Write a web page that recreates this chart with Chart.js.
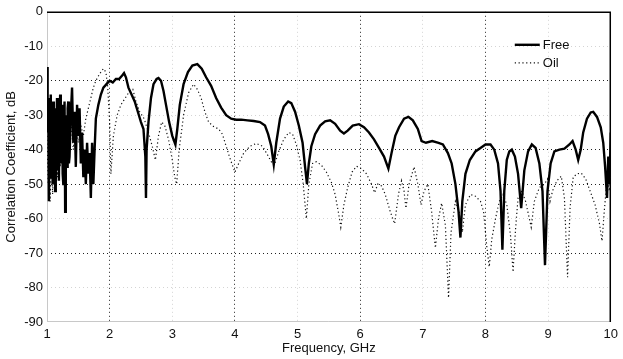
<!DOCTYPE html>
<html>
<head>
<meta charset="utf-8">
<script src="https://cdn.jsdelivr.net/npm/chart.js@4/dist/chart.umd.min.js"></script>
<style>
  html, body { margin: 0; padding: 0; background: #fff; }
  #wrap { width: 623px; height: 359px; }
</style>
</head>
<body>
<div id="wrap"><canvas id="corr"></canvas></div>
<script>
// Frequency (GHz) and correlation (dB)
var freqFree = [1.00,1.01,1.02,1.03,1.04,1.05,1.06,1.07,1.08,1.09,1.10,1.11,1.12,1.13,1.14,1.15,1.16,1.17,1.18,1.19,1.20,1.21,1.22,1.23,1.24,1.25,1.26,1.27,1.28,1.29,1.30,1.31,1.32,1.33,1.34,1.35,1.36,1.38,1.40,1.42,1.44,1.46,1.48,1.50,1.52,1.54,1.56,1.58,1.60,1.62,1.64,1.66,1.68,1.70,1.72,1.74,1.76,1.78,1.82,1.86,1.90,1.95,2.00,2.05,2.10,2.15,2.20,2.23,2.26,2.30,2.35,2.40,2.45,2.50,2.54,2.57,2.58,2.59,2.62,2.66,2.70,2.75,2.78,2.82,2.86,2.90,2.95,3.00,3.05,3.08,3.12,3.18,3.25,3.32,3.40,3.47,3.54,3.62,3.70,3.78,3.86,3.94,4.02,4.10,4.20,4.30,4.40,4.48,4.53,4.58,4.62,4.66,4.72,4.78,4.85,4.90,4.96,5.02,5.08,5.12,5.15,5.18,5.22,5.28,5.36,5.44,5.52,5.60,5.68,5.74,5.80,5.88,5.98,6.06,6.14,6.22,6.30,6.38,6.45,6.50,6.56,6.62,6.70,6.77,6.84,6.92,6.98,7.05,7.15,7.25,7.32,7.40,7.46,7.52,7.57,7.60,7.63,7.68,7.75,7.84,7.92,8.00,8.08,8.14,8.20,8.24,8.27,8.30,8.34,8.38,8.42,8.47,8.52,8.57,8.62,8.68,8.74,8.80,8.86,8.91,8.95,8.99,9.04,9.10,9.18,9.26,9.34,9.39,9.44,9.48,9.52,9.56,9.62,9.68,9.72,9.78,9.84,9.88,9.91,9.94,9.96,9.98,10.00];
var dbFree = [-16,-35,-25,-55,-28,-48,-24,-42,-30,-50,-26,-44,-28,-52,-30,-40,-25,-46,-28,-49,-32,-24,-44,-29,-27,-47,-50,-35,-26,-58,-30,-40,-45,-28,-26,-44,-42,-30,-22,-38,-29,-45,-27,-36,-28,-44,-35,-48,-40,-50,-38,-47,-41,-54,-38,-50,-40,-31,-27,-24,-22,-21,-20,-20.5,-19.5,-19.5,-18.5,-17.8,-19,-22,-24,-26,-29,-32,-34,-42,-54,-40,-32,-25,-21,-19.5,-19.2,-20,-23,-27,-32,-36,-38.5,-34,-27,-21,-17.5,-15.6,-15.2,-16.5,-19,-21.5,-25,-27.8,-30,-31,-31.3,-31.3,-31.5,-31.7,-32,-33,-35.5,-39,-44.3,-38,-31,-27.5,-26,-26.5,-29,-33,-38,-45,-50,-44,-39,-35.5,-33,-31.8,-31.5,-32.5,-34.5,-35.3,-34.5,-33,-32.6,-33.5,-35,-37,-39.5,-42,-45.5,-41,-36,-33.5,-31,-30.5,-31.5,-34,-37.5,-38,-37.5,-38,-38.5,-41,-44,-50,-58,-65.5,-55,-47,-43,-40.5,-39.5,-38.5,-38.5,-40,-44,-52,-69,-52,-43,-40.5,-40,-42,-47,-57,-46,-40.5,-38.5,-39.5,-44,-52,-73.5,-52,-44,-40.5,-40,-39.7,-38.5,-37.5,-40,-43,-40,-35,-31,-29.2,-29,-30.5,-33.5,-38,-45,-54,-42,-50,-35];

var freqOil = [1.00,1.02,1.03,1.05,1.07,1.09,1.11,1.13,1.15,1.17,1.19,1.21,1.23,1.25,1.27,1.29,1.32,1.35,1.38,1.42,1.46,1.50,1.54,1.58,1.62,1.66,1.70,1.74,1.78,1.84,1.90,1.94,1.97,2.00,2.02,2.06,2.12,2.18,2.25,2.32,2.37,2.42,2.48,2.55,2.62,2.68,2.73,2.78,2.83,2.88,2.94,3.00,3.04,3.07,3.11,3.18,3.26,3.34,3.40,3.46,3.52,3.58,3.66,3.74,3.80,3.86,3.93,4.00,4.06,4.14,4.24,4.34,4.44,4.52,4.58,4.63,4.70,4.78,4.86,4.92,4.98,5.04,5.09,5.14,5.18,5.24,5.30,5.38,5.46,5.54,5.60,5.65,5.69,5.74,5.80,5.87,5.94,6.02,6.10,6.18,6.23,6.28,6.34,6.40,6.48,6.55,6.61,6.66,6.70,6.73,6.78,6.86,6.92,6.97,7.02,7.08,7.14,7.20,7.25,7.30,7.36,7.41,7.45,7.52,7.58,7.63,7.68,7.76,7.84,7.92,7.97,8.02,8.06,8.10,8.16,8.22,8.28,8.34,8.40,8.44,8.48,8.52,8.58,8.64,8.70,8.73,8.78,8.86,8.94,8.99,9.03,9.07,9.14,9.21,9.26,9.31,9.35,9.40,9.46,9.53,9.60,9.68,9.75,9.82,9.86,9.90,9.94,9.98,10.00];
var dbOil = [-36,-50,-38,-55,-40,-53,-38,-50,-35,-48,-33,-45,-32,-43,-30,-40,-31,-42,-32,-40,-30,-38,-33,-36,-31,-28,-25,-22,-20,-18,-16.5,-17.5,-22,-32,-47,-36,-30,-27,-25,-23,-22.5,-26,-29,-31,-35,-39,-43,-36,-32,-33,-37,-43,-48,-50,-40,-30,-23.5,-21,-22.5,-25,-29,-32,-33.3,-34,-35.5,-39,-43,-46.5,-44,-41,-39,-38.2,-39,-41.5,-43.5,-44.5,-40.5,-37,-35,-35.5,-38.5,-43,-50,-60,-50,-44,-43.5,-44.5,-46.5,-49.5,-53,-58,-62.5,-56,-51,-46.5,-44.8,-45.5,-47,-50,-52.5,-50,-50.5,-53,-58,-61.5,-53,-49,-52,-57,-50,-45,-50,-56,-52,-50,-58,-68.5,-60,-55.5,-62,-83,-64,-55,-58,-64,-56,-53,-53.5,-55,-58,-68,-74,-66,-60,-55,-53,-56,-65,-75.5,-63,-54,-52,-55,-60,-62.5,-55,-51,-50,-48.5,-55,-52,-49,-47.7,-54,-77,-57,-48,-47,-46.8,-48.5,-52.5,-56,-61.5,-66.5,-57,-49,-52,-47];

var seriesNames = ['Free', 'Oil'];
var xTicks = [1, 2, 3, 4, 5, 6, 7, 8, 9, 10];
var yTicks = [0, -10, -20, -30, -40, -50, -60, -70, -80, -90];

function toPoints(xs, ys) {
    var pts = [];
    for (var i = 0; i < xs.length; i++) {
        pts.push({ x: xs[i], y: ys[i] });
    }
    return pts;
}

// grid lines that show up darker in the picture
var darkX = [2, 4, 6, 8];
var darkY = [-20, -40, -50, -70];

function gridStyle(axis) {
    return function (ctx) {
        var v = ctx.tick ? ctx.tick.value : null;
        if (axis == 'x') {
            if (v == 10 || v == 1) return 'rgba(0,0,0,0)';
            return darkX.indexOf(v) >= 0 ? '#222' : '#d4d4d4';
        }
        if (v == 0 || v == -90) return 'rgba(0,0,0,0)';
        return darkY.indexOf(v) >= 0 ? '#222' : '#d4d4d4';
    };
}

// box round the plot: solid black on top and right, faint on the left and bottom
var plotFrame = {
    id: 'plotFrame',
    beforeDatasetsDraw: function (chart) {
        var a = chart.chartArea;
        var c = chart.ctx;
        c.save();
        c.lineWidth = 1;
        c.strokeStyle = '#c8c8c8';
        c.beginPath();
        c.moveTo(a.left + 0.5, a.top);
        c.lineTo(a.left + 0.5, a.bottom);
        c.moveTo(a.left, a.bottom - 0.5);
        c.lineTo(a.right, a.bottom - 0.5);
        c.stroke();
        c.strokeStyle = '#000';
        c.lineWidth = 1.5;
        c.beginPath();
        c.moveTo(a.left, a.top + 0.5);
        c.lineTo(a.right - 0.5, a.top + 0.5);
        c.lineTo(a.right - 0.5, a.bottom);
        c.stroke();
        c.restore();
    }
};

// little legend in the top right corner of the plot
var cornerLegend = {
    id: 'cornerLegend',
    afterDatasetsDraw: function (chart) {
        var c = chart.ctx;
        var x0 = chart.chartArea.right - 96;
        var y0 = chart.chartArea.top + 33;
        c.save();
        c.font = '13px "Liberation Sans", Arial, sans-serif';
        c.textBaseline = 'middle';
        c.fillStyle = '#111';
        chart.data.datasets.forEach(function (ds, i) {
            var y = y0 + i * 18;
            c.beginPath();
            c.strokeStyle = ds.borderColor;
            c.lineWidth = ds.borderWidth;
            c.setLineDash(ds.borderDash || []);
            c.moveTo(x0, y);
            c.lineTo(x0 + 25, y);
            c.stroke();
            c.fillText(ds.label, x0 + 28, y + 1);
        });
        c.restore();
    }
};

var fontFamily = '"Liberation Sans", Arial, sans-serif';

var ctx = document.getElementById('corr').getContext('2d');
var corrChart = new Chart(ctx, {
    type: 'line',
    data: {
        datasets: [{
            label: seriesNames[0],
            data: toPoints(freqFree, dbFree),
            borderColor: '#000',
            borderWidth: 2.4,
            pointRadius: 0,
            tension: 0
        }, {
            label: seriesNames[1],
            data: toPoints(freqOil, dbOil),
            borderColor: '#111',
            borderWidth: 1.2,
            borderDash: [1.2, 2.6],
            pointRadius: 0,
            tension: 0
        }]
    },
    options: {
        responsive: true,
        maintainAspectRatio: false,
        animation: false,
        layout: { padding: { top: 9, right: 6, left: 0, bottom: 0 } },
        plugins: {
            legend: { display: false },
            tooltip: { enabled: false }
        },
        scales: {
            x: {
                type: 'linear',
                min: 1,
                max: 10,
                afterBuildTicks: function (scale) {
                    scale.ticks = xTicks.map(function (v) { return { value: v }; });
                },
                afterFit: function (scale) { scale.height = 37; },
                grid: { color: gridStyle('x'), drawTicks: false, lineWidth: 1 },
                border: { display: false, dash: [1, 3] },
                ticks: {
                    padding: 5,
                    maxRotation: 0,
                    color: '#111',
                    font: { family: fontFamily, size: 13 }
                },
                title: {
                    display: true,
                    text: 'Frequency, GHz',
                    color: '#111',
                    padding: { top: 0, bottom: 3 },
                    font: { family: fontFamily, size: 13 }
                }
            },
            y: {
                type: 'linear',
                min: -90,
                max: 0,
                afterBuildTicks: function (scale) {
                    scale.ticks = yTicks.map(function (v) { return { value: v }; });
                },
                afterFit: function (scale) { scale.width = 47; },
                grid: { color: gridStyle('y'), drawTicks: false, lineWidth: 1 },
                border: { display: false, dash: [1, 3] },
                ticks: {
                    padding: 4,
                    color: '#111',
                    font: { family: fontFamily, size: 13 }
                },
                title: {
                    display: true,
                    text: 'Correlation Coefficient, dB',
                    color: '#111',
                    padding: { top: 4, bottom: 0 },
                    font: { family: fontFamily, size: 13 }
                }
            }
        }
    },
    plugins: [plotFrame, cornerLegend]
});
</script>
</body>
</html>
